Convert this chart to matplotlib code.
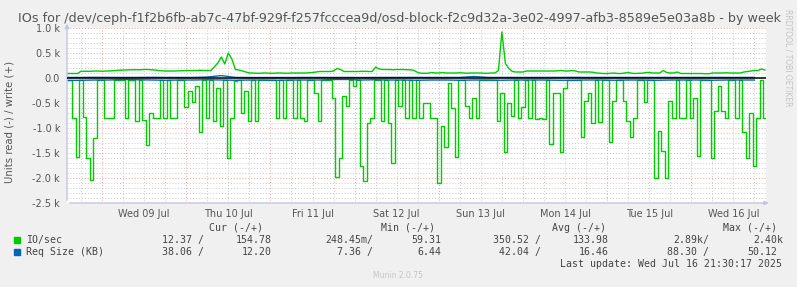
import numpy as np
import matplotlib.pyplot as plt
from matplotlib.patches import Rectangle
from matplotlib.ticker import FuncFormatter

# hours counted from Wed 09 Jul 00:00, one value per hour
hours = np.arange(-10, 190)

io_read = [
    30, 30, 800, 1580, 30, 780, 1600, 2040, 1200, 30,
    30, 800, 800, 800, 30, 30, 30, 800, 30, 30,
    850, 30, 840, 1340, 700, 800, 800, 30, 800, 30,
    800, 800, 30, 30, 580, 250, 480, 150, 1080, 30,
    800, 30, 850, 200, 950, 30, 1600, 800, 50, 30,
    700, 250, 850, 30, 850, 30, 30, 30, 30, 30,
    800, 30, 800, 30, 30, 800, 30, 800, 850, 30,
    30, 300, 850, 30, 30, 30, 400, 1980, 1600, 350,
    550, 30, 150, 30, 1750, 2050, 900, 800, 30, 30,
    850, 30, 900, 1700, 30, 550, 30, 800, 30, 800,
    30, 800, 500, 500, 800, 800, 2100, 950, 1380, 100,
    600, 1580, 30, 30, 550, 800, 400, 800, 30, 30,
    30, 30, 30, 850, 300, 1480, 500, 750, 30, 800,
    580, 30, 800, 30, 820, 800, 820, 30, 1310, 300,
    300, 1480, 200, 30, 30, 30, 30, 1180, 450, 300,
    900, 30, 880, 30, 30, 1280, 450, 30, 30, 450,
    850, 1180, 800, 30, 30, 480, 30, 30, 2000, 1050,
    1450, 2000, 450, 800, 30, 800, 800, 30, 800, 400,
    1550, 30, 30, 30, 1600, 650, 150, 650, 800, 30,
    30, 800, 30, 1080, 1600, 700, 1750, 800, 30, 800,
]

io_write = [
    90, 90, 90, 90, 135, 135, 135, 135, 140, 140,
    135, 140, 140, 145, 150, 155, 160, 160, 165, 165,
    165, 165, 170, 170, 165, 160, 150, 145, 140, 140,
    140, 140, 145, 145, 150, 150, 150, 150, 155, 150,
    150, 150, 220, 300, 420, 280, 500, 380, 170, 160,
    140, 120, 100, 100, 95, 95, 100, 100, 95, 95,
    100, 100, 95, 95, 100, 100, 100, 100, 100, 105,
    110, 120, 130, 130, 130, 130, 140, 190, 170, 130,
    130, 130, 130, 130, 135, 135, 130, 130, 220, 180,
    170, 170, 170, 165, 170, 170, 170, 165, 165, 150,
    110, 95, 95, 95, 110, 100, 100, 110, 100, 100,
    100, 100, 105, 100, 95, 100, 100, 100, 100, 95,
    95, 100, 100, 150, 920, 290, 190, 130, 120, 120,
    120, 140, 140, 140, 140, 140, 140, 140, 140, 140,
    145, 150, 140, 140, 150, 140, 120, 120, 120, 120,
    115, 100, 95, 90, 90, 95, 100, 90, 90, 100,
    110, 95, 90, 95, 95, 110, 110, 100, 100, 100,
    150, 110, 100, 100, 120, 90, 90, 90, 90, 90,
    90, 90, 85, 85, 100, 100, 100, 100, 105, 100,
    100, 100, 100, 120, 130, 140, 150, 150, 180, 160,
]

# request size (KB), one value every 4 hours
req_hours = np.arange(-10, 190, 4)
req_read = [
    50, 45, 40, 40, 30, 35, 40, 45, 40, 40,
    35, 40, 45, 40, 40, 45, 40, 40, 40, 30,
    30, 40, 35, 40, 40, 45, 40, 40, 45, 40,
    40, 45, 40, 40, 40, 45, 45, 40, 40, 45,
    40, 40, 45, 40, 40, 40, 45, 40, 40, 40,
]
req_write = [
    12, 12, 14, 12, 12, 12, 14, 12, 12, 12,
    20, 48, 12, 10, 10, 10, 10, 12, 12, 12,
    12, 10, 12, 12, 12, 12, 12, 12, 12, 30,
    12, 12, 12, 12, 12, 12, 14, 12, 12, 12,
    12, 12, 12, 12, 12, 12, 12, 12, 12, 12,
]

day_labels = ["Wed 09 Jul", "Thu 10 Jul", "Fri 11 Jul", "Sat 12 Jul",
              "Sun 13 Jul", "Mon 14 Jul", "Tue 15 Jul", "Wed 16 Jul"]

series_names = ["IO/sec", "Req Size (KB)"]
cur_vals = [(12.37, 154.78), (38.06, 12.20)]
min_vals = [(0.24845, 59.31), (7.36, 6.44)]
avg_vals = [(350.52, 133.98), (42.04, 16.46)]
max_vals = [(2890, 2400), (88.30, 50.12)]
last_update = "Last update: Wed Jul 16 21:30:17 2025"

GREEN = "#00cc00"
BLUE = "#0066b3"
W, H = 797, 287


def fx(px):
    return px / W


def fy(py):
    return 1 - py / H


def si(v):
    if v >= 1000:
        return "%.2f" % (v / 1000), "k"
    if v < 1:
        return "%.2f" % (v * 1000), "m"
    return "%.2f" % v, " "


def ylab(v, pos):
    if abs(v) < 1e-9:
        return "0.0"
    return "%.1f k" % (v / 1000)


fig = plt.figure(figsize=(W / 100, H / 100), dpi=100, facecolor="#f0f0f0")
ax = fig.add_axes([fx(67), fy(203), fx(699), 175 / H])
ax.set_facecolor("white")

ax.set_xlim(-10, 189.3)
ax.set_ylim(-2500, 1000)

# grid
for h in np.arange(-6, 190, 6):
    if h % 24 == 0:
        ax.axvline(h, color="#e8a4a4", lw=0.7, ls=(0, (1, 2)), zorder=0)
    else:
        ax.axvline(h, color="#c8c8c8", lw=0.7, ls=(0, (1, 2)), zorder=0)
for v in np.arange(-2400, 1001, 100):
    if v % 500 == 0:
        ax.axhline(v, color="#e8a4a4", lw=0.7, ls=(0, (1, 2)), zorder=0)
    else:
        ax.axhline(v, color="#c8c8c8", lw=0.7, ls=(0, (1, 2)), zorder=0)

ax.plot(hours, -np.array(io_read), color=GREEN, lw=1.0, drawstyle="steps-mid", zorder=2)
ax.plot(hours, io_write, color=GREEN, lw=1.0, zorder=2)
ax.plot(req_hours, -np.array(req_read), color=BLUE, lw=1.0, zorder=3)
ax.plot(req_hours, req_write, color=BLUE, lw=1.0, zorder=3)
ax.axhline(0, color="#000000", lw=1.1, zorder=4)

for s in ax.spines.values():
    s.set_visible(False)
ax.annotate("", xy=(0, 1.04), xytext=(0, 0), xycoords="axes fraction",
            arrowprops=dict(arrowstyle="-|>", color="#c4c4e4", lw=1, mutation_scale=6))
ax.annotate("", xy=(1.008, 0), xytext=(0, 0), xycoords="axes fraction",
            arrowprops=dict(arrowstyle="-|>", color="#c4c4e4", lw=1, mutation_scale=6))

ax.set_yticks(np.arange(-2500, 1001, 500))
ax.yaxis.set_major_formatter(FuncFormatter(ylab))
ax.set_xticks(np.arange(12, 190, 24), day_labels)
ax.tick_params(length=0, labelsize=7, colors="#555555")
ax.tick_params(axis="y", pad=5)
ax.tick_params(axis="x", pad=4)

fig.text(fx(399), fy(22), "IOs for /dev/ceph-f1f2b6fb-ab7c-47bf-929f-f257fcccea9d/osd-block-"
         "f2c9d32a-3e02-4997-afb3-8589e5e03a8b - by week",
         ha="center", va="baseline", fontsize=9.15, color="#555555")
fig.text(fx(10), fy(122), "Units read (-) / write (+)", rotation=90,
         ha="center", va="center", fontsize=7.3, color="#555555")
fig.text(fx(788), fy(58), "RRDTOOL / TOBI OETIKER", rotation=270,
         ha="center", va="center", fontsize=5.5, color="#c4c4c4")
fig.text(fx(398), fy(276), "Munin 2.0.75", ha="center", va="center",
         fontsize=5.5, color="#c4c4c4")

# legend block
mono = dict(family="DejaVu Sans Mono", fontsize=7.1, color="#444444", va="center")
cw = 5.95
for label, xl in zip(["Cur (-/+)", "Min (-/+)", "Avg (-/+)", "Max (-/+)"],
                     [209, 381, 552, 723]):
    fig.text(fx(xl), fy(228), label, ha="left", **mono)

read_ends = [204, 373, 541, 709]
write_ends = [278, 447, 615, 783]
row_y = [240, 252]
colors = [GREEN, BLUE]
for i, name in enumerate(series_names):
    y = row_y[i]
    fig.patches.append(Rectangle((fx(14), fy(y + 2.7)), fx(5.5), 5.5 / H,
                                 transform=fig.transFigure, color=colors[i]))
    fig.text(fx(26), fy(y), name, ha="left", **mono)
    for j, vals in enumerate([cur_vals, min_vals, avg_vals, max_vals]):
        r, w = vals[i]
        num, suf = si(r)
        fig.text(fx(read_ends[j]), fy(y), num + suf + "/", ha="right", **mono)
        num, suf = si(w)
        if suf == " ":
            fig.text(fx(write_ends[j] - cw), fy(y), num, ha="right", **mono)
        else:
            fig.text(fx(write_ends[j]), fy(y), num + suf, ha="right", **mono)

fig.text(fx(782), fy(264), last_update, ha="right", **mono)

fig.savefig("out.png", dpi=100, facecolor=fig.get_facecolor())
